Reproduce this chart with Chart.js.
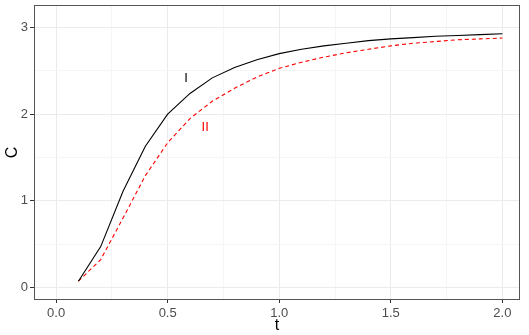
<!DOCTYPE html>
<html>
<head>
<meta charset="utf-8">
<script src="https://cdn.jsdelivr.net/npm/chart.js@4.4.1/dist/chart.umd.min.js"></script>
<style>
html,body{margin:0;padding:0;background:#fff;}
#wrap{width:529px;height:335px;position:relative;}
</style>
</head>
<body>
<div id="wrap"><canvas id="c" width="529" height="335"></canvas></div>
<script>
const tValues = [0.1,0.2,0.3,0.4,0.5,0.6,0.7,0.8,0.9,1.0,1.1,1.2,1.3,1.4,1.5,1.6,1.7,1.8,1.9,2.0];
const seriesI  = [0.07,0.47,1.11,1.63,2.00,2.24,2.42,2.54,2.63,2.70,2.75,2.79,2.82,2.85,2.87,2.885,2.90,2.91,2.92,2.93];
const seriesII = [0.07,0.32,0.80,1.29,1.67,1.95,2.15,2.30,2.43,2.53,2.60,2.66,2.71,2.75,2.79,2.82,2.84,2.86,2.87,2.88];
const xTicks = [0,0.25,0.5,0.75,1,1.25,1.5,1.75,2];
const xTickLabels = {0:'0.0',0.5:'0.5',1:'1.0',1.5:'1.5',2:'2.0'};
const yTicks = [0,0.5,1,1.5,2,2.5,3];
const yTickLabels = {0:'0',1:'1',2:'2',3:'3'};
const curveLabels = [
  {text:'I', x:0.582, y:2.41, color:'#000000'},
  {text:'II', x:0.668, y:1.85, color:'#ff0000'}
];

const FONT = "'Liberation Sans', Arial, sans-serif";

const borderPlugin = {
  id:'panelBorder',
  afterDatasetsDraw(chart){
    const {ctx, chartArea:a, scales} = chart;
    ctx.save();
    ctx.font = "13px " + FONT;
    ctx.textAlign='center'; ctx.textBaseline='middle';
    curveLabels.forEach(l=>{
      ctx.fillStyle=l.color;
      ctx.fillText(l.text, scales.x.getPixelForValue(l.x), scales.y.getPixelForValue(l.y));
    });
    ctx.strokeStyle='#555555';
    ctx.lineWidth=1;
    ctx.strokeRect(a.left+0.5, a.top+0.5, a.right-a.left-1, a.bottom-a.top-1);
    ctx.restore();
  }
};

new Chart(document.getElementById('c'), {
  type:'line',
  data:{
    datasets:[
      {label:'I', data:tValues.map((t,i)=>({x:t,y:seriesI[i]})), borderColor:'#000000', borderWidth:1.1, pointRadius:0, fill:false, tension:0},
      {label:'II', data:tValues.map((t,i)=>({x:t,y:seriesII[i]})), borderColor:'#ff0000', borderWidth:1.1, borderDash:[4,3], pointRadius:0, fill:false, tension:0}
    ]
  },
  options:{
    responsive:false,
    animation:false,
    layout:{padding:{left:0,right:9,top:5,bottom:0}},
    plugins:{legend:{display:false}, tooltip:{enabled:false}},
    scales:{
      x:{
        type:'linear', min:-0.099, max:2.079,
        afterBuildTicks(s){ s.ticks = xTicks.map(v=>({value:v})); },
        afterFit(s){ s.height = 35; s.paddingLeft = 0; s.paddingRight = 0; },
        grid:{
          color:(c)=> xTickLabels[c.tick.value]!==undefined ? '#ebebeb' : '#f5f5f5',
          tickColor:(c)=> xTickLabels[c.tick.value]!==undefined ? '#333333' : 'rgba(0,0,0,0)',
          tickLength:3, lineWidth:1, drawOnChartArea:true
        },
        border:{display:false},
        ticks:{
          autoSkip:false, maxRotation:0, padding:3,
          color:'#4d4d4d', font:{family:FONT,size:13},
          callback:(v)=> xTickLabels[v]!==undefined ? xTickLabels[v] : ''
        },
        title:{display:true, text:'t', color:'#000000', font:{family:FONT,size:16}, padding:{top:0,bottom:0}}
      },
      y:{
        type:'linear', min:-0.147, max:3.262,
        afterBuildTicks(s){ s.ticks = yTicks.map(v=>({value:v})); },
        afterFit(s){ s.width = 34; s.paddingTop = 0; s.paddingBottom = 0; },
        grid:{
          color:(c)=> yTickLabels[c.tick.value]!==undefined ? '#ebebeb' : '#f5f5f5',
          tickColor:(c)=> yTickLabels[c.tick.value]!==undefined ? '#333333' : 'rgba(0,0,0,0)',
          tickLength:4, lineWidth:1
        },
        border:{display:false},
        ticks:{
          autoSkip:false, padding:2,
          color:'#4d4d4d', font:{family:FONT,size:13},
          callback:(v)=> yTickLabels[v]!==undefined ? yTickLabels[v] : ''
        },
        title:{display:true, text:'C', color:'#000000', font:{family:FONT,size:16}, padding:{top:3,bottom:0}}
      }
    }
  },
  plugins:[borderPlugin]
});
</script>
</body>
</html>
